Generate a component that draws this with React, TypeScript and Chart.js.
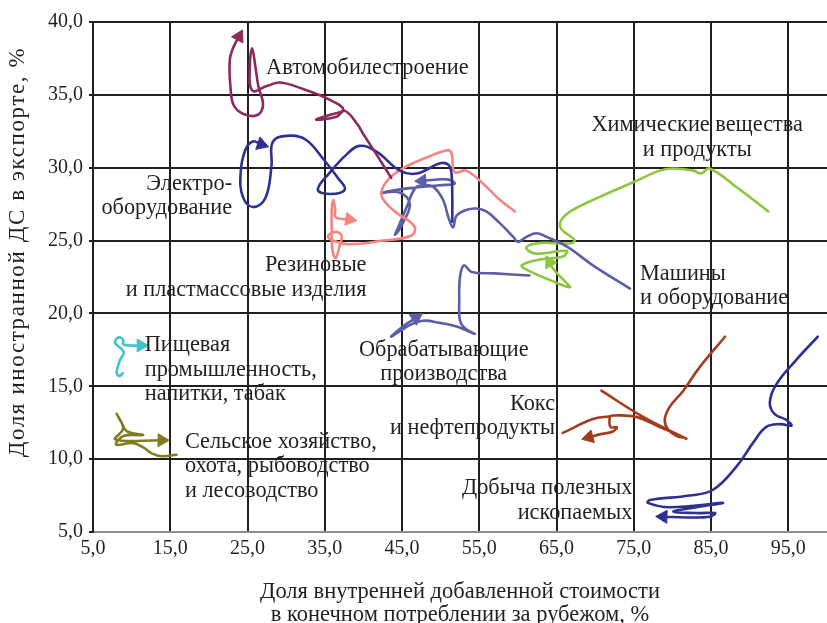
import React, { useEffect, useRef } from 'react';
import { Chart, registerables } from 'chart.js';

Chart.register(...registerables);

type P = [number, number] | null;

// Axis ticks
const X_TICKS = [5, 15, 25, 35, 45, 55, 65, 75, 85, 95];
const Y_TICKS = [5, 10, 15, 20, 25, 30, 35, 40];

// Trajectories (x: доля внутренней ДС, y: доля иностранной ДС), last point = arrow
const AUTO: P[] = [
  [43.6, 29.3], [41.7, 30.9], [40.0, 32.3], [39.2, 33.0], [37.6, 33.9], [36.5, 33.5], [33.9, 33.3],
  [35.5, 33.6], [37.4, 34.0], [35.5, 34.7], [32.2, 35.4], [29.2, 35.85], [27.5, 35.6], [25.6, 35.3],
  [25.3, 37.0], [25.6, 38.2], [26.0, 37.0], [26.4, 35.6], [27.0, 34.3], [26.2, 33.6], [24.4, 33.7],
  [23.2, 34.3], [22.8, 35.5], [22.7, 37.4], [23.2, 38.3], [23.9, 39.0],
];

const ELECTRO: P[] = [
  [51.5, 26.3], [51.5, 28.0], [51.4, 29.6], [51.0, 30.2], [49.9, 30.3], [46.9, 29.6], [44.7, 29.8],
  [41.7, 31.1], [39.5, 31.5], [37.8, 30.9], [35.7, 29.7], [34.1, 28.5], [35.7, 28.2], [37.6, 28.5],
  [36.7, 29.3], [34.8, 30.6], [32.6, 31.9], [30.5, 32.2], [28.3, 31.8], [28.1, 30.1], [27.3, 27.9],
  [25.7, 27.3], [24.4, 28.0], [24.1, 29.6], [24.7, 31.2], [25.7, 31.8], [26.8, 31.6],
];

const RUBBER: P[] = [
  [59.6, 27.0], [57.65, 27.8], [55.5, 28.9], [53.3, 29.8], [51.8, 29.7], [51.4, 31.0], [50.8, 31.2],
  [48.2, 30.7], [45.6, 30.1], [43.4, 29.3], [42.3, 28.3], [42.8, 27.65], [44.3, 26.9], [46.0, 26.3],
  [46.7, 25.8], [46.0, 25.3], [42.6, 25.0], [38.2, 24.75], [36.1, 25.0], [35.4, 25.3], [36.5, 25.6],
  [37.2, 25.3], [36.9, 24.6], [36.4, 23.8], [36.0, 24.3], [35.9, 25.7], [35.9, 27.1], [36.1, 27.8],
  [36.35, 27.1], [36.4, 26.6], [38.2, 26.45],
];

const MACHINES: P[] = [
  [74.5, 21.7], [69.7, 23.3], [66.3, 24.6], [63.7, 25.25], [62.4, 25.5], [61.1, 25.25], [60.0, 24.9],
  [59.4, 25.25], [57.65, 26.2], [55.9, 27.0], [54.6, 27.2], [53.3, 27.1], [52.05, 26.7], [51.6, 25.9],
  [51.0, 26.6], [50.3, 27.8], [49.0, 28.7], [47.7, 28.8], [46.7, 28.6], [45.6, 27.3], [44.5, 25.9],
  [44.1, 25.4], [45.1, 26.2], [46.0, 27.5], [44.7, 28.3], [42.3, 28.25], [46.0, 28.6], [49.9, 28.8],
  [51.8, 28.9], [50.9, 29.2], [47.6, 29.1],
];

const PROCESSING: P[] = [
  [61.5, 22.6], [57.0, 22.75], [54.0, 22.85], [53.0, 23.3], [52.5, 22.5], [52.4, 20.9], [52.5, 19.5],
  [53.1, 19.0], [54.4, 18.6], [52.05, 19.1], [49.9, 19.35], [47.7, 19.5], [46.0, 19.2], [43.6, 18.4],
  [45.1, 19.1], [46.8, 19.7],
];

const CHEMICAL: P[] = [
  [92.4, 27.0], [88.7, 28.5], [84.8, 29.95], [83.7, 29.6], [82.7, 29.8], [80.1, 29.95], [78.35, 29.8],
  [74.9, 29.0], [70.6, 28.0], [67.1, 27.1], [65.6, 26.4], [65.6, 25.8], [66.9, 25.25], [67.35, 25.0],
  [66.7, 24.8], [63.25, 24.85], [61.5, 24.7], [61.1, 24.45], [62.4, 24.1], [66.3, 24.3], [65.8, 23.9],
  [62.8, 23.7], [60.5, 23.3], [61.1, 23.0], [64.1, 22.3], [66.7, 21.8], [65.7, 22.4], [64.5, 23.1],
  [64.1, 23.5],
];

const FOOD: P[] = [
  [8.84, 15.9], [8.4, 15.7], [8.07, 16.0], [8.5, 16.8], [9.0, 17.3], [8.6, 17.6], [7.85, 18.0],
  [8.3, 18.35], [8.9, 18.2], [8.9, 17.9], [9.8, 17.8], [11.2, 17.8],
];

const AGRI: P[] = [
  [15.8, 10.3], [13.9, 10.2], [12.6, 10.4], [11.5, 10.8], [10.2, 11.1], [8.0, 11.0], [9.0, 11.6],
  [11.5, 11.65], [9.4, 11.9], [8.7, 12.5], [8.07, 13.1], [8.9, 12.1], [7.9, 11.35], [13.9, 11.3],
];

const COKE: P[] = [
  [65.8, 11.8], [69.7, 12.75], [71.9, 12.95], null,
  [70.8, 14.7], [76.2, 12.9], [81.8, 11.4], null,
  [86.8, 18.4], [83.5, 16.3], [81.4, 14.7], [79.6, 13.55], [79.0, 12.7], [79.4, 12.05], [80.5, 11.6],
  [81.4, 11.5], [78.35, 12.2], [75.3, 12.9], [72.3, 13.0], [71.9, 12.9], [72.0, 12.2], [72.8, 12.2],
  [72.3, 11.9], [70.6, 11.7], [69.2, 11.5],
];

const MINING: P[] = [
  [98.8, 18.4], [96.0, 16.8], [93.4, 15.1], [92.6, 13.9], [93.2, 13.1], [94.7, 12.7], [95.4, 12.3],
  [93.9, 12.4], [92.1, 12.2], [90.4, 11.1], [88.3, 9.5], [85.25, 7.9], [82.2, 7.5], [77.1, 7.2],
  [76.8, 7.0], [79.6, 6.7], [86.5, 7.0], [83.1, 6.7], [80.1, 6.4], [83.1, 6.3], [85.5, 6.3],
  [84.8, 6.05], [81.8, 6.0], [78.8, 6.05],
];

const SERIES = [
  { name: 'Автомобилестроение', data: AUTO, color: '#8c2b5c' },
  { name: 'Электрооборудование', data: ELECTRO, color: '#2e3192' },
  { name: 'Резиновые и пластмассовые изделия', data: RUBBER, color: '#f58580' },
  { name: 'Машины и оборудование', data: MACHINES, color: '#5c5fa3' },
  { name: 'Обрабатывающие производства', data: PROCESSING, color: '#5c5fa3' },
  { name: 'Химические вещества и продукты', data: CHEMICAL, color: '#8dc63f' },
  { name: 'Пищевая промышленность', data: FOOD, color: '#3fc3c8' },
  { name: 'Сельское хозяйство', data: AGRI, color: '#7f7c22' },
  { name: 'Кокс и нефтепродукты', data: COKE, color: '#a33d1e' },
  { name: 'Добыча полезных ископаемых', data: MINING, color: '#2e3192' },
];

// Annotation labels (data position of first line)
const LABELS: { lines: string[]; x: number; y: number; align: CanvasTextAlign }[] = [
  { lines: ['Автомобилестроение'], x: 27.4, y: 36.8, align: 'left' },
  { lines: ['Электро-', 'оборудование'], x: 23.0, y: 28.9, align: 'right' },
  { lines: ['Резиновые', 'и пластмассовые изделия'], x: 40.4, y: 23.3, align: 'right' },
  { lines: ['Химические вещества', 'и продукты'], x: 83.2, y: 32.9, align: 'center' },
  { lines: ['Машины', 'и оборудование'], x: 75.8, y: 22.7, align: 'left' },
  { lines: ['Пищевая', 'промышленность,', 'напитки, табак'], x: 11.7, y: 17.8, align: 'left' },
  { lines: ['Обрабатывающие', 'производства'], x: 50.4, y: 17.5, align: 'center' },
  { lines: ['Кокс', 'и нефтепродукты'], x: 64.8, y: 13.8, align: 'right' },
  { lines: ['Сельское хозяйство,', 'охота, рыбоводство', 'и лесоводство'], x: 16.9, y: 11.2, align: 'left' },
  { lines: ['Добыча полезных', 'ископаемых'], x: 74.8, y: 8.0, align: 'right' },
];

const X_TITLE = ['Доля внутренней добавленной стоимости', 'в конечном потреблении за рубежом, %'];
const Y_TITLE = 'Доля иностранной ДС в экспорте, %';

const FONT = '"Liberation Serif", "Times New Roman", serif';
const TEXT = '#231f20';

const fmt = (v: number) => v.toFixed(1).replace('.', ',');

const annotationPlugin = {
  id: 'annotations',
  afterDatasetsDraw(chart: any) {
    const { ctx, scales, chartArea } = chart;
    ctx.save();
    ctx.fillStyle = TEXT;
    ctx.font = `22.3px ${FONT}`;
    ctx.textBaseline = 'middle';
    LABELS.forEach((l) => {
      const px = scales.x.getPixelForValue(l.x);
      const py = scales.y.getPixelForValue(l.y);
      ctx.textAlign = l.align;
      l.lines.forEach((t, i) => ctx.fillText(t, px, py + i * 24.5));
    });
    // y-axis title
    ctx.translate(18, (chartArea.top + chartArea.bottom) / 2 - 25);
    ctx.rotate(-Math.PI / 2);
    ctx.textAlign = 'center';
    ctx.font = `23px ${FONT}`;
    try {
      (ctx as any).letterSpacing = '1.6px';
    } catch (e) {
      /* ignore */
    }
    ctx.fillText(Y_TITLE, 0, 0);
    ctx.restore();
  },
};

export default function App() {
  const ref = useRef<HTMLCanvasElement | null>(null);

  useEffect(() => {
    if (!ref.current) return;
    const datasets = SERIES.map((s) => {
      const data = s.data.map((p) => (p ? { x: p[0], y: p[1] } : { x: null as any, y: null as any }));
      const L = data.length - 1;
      let prevIdx = L - 1;
      while (prevIdx > 0 && data[prevIdx].x === null) prevIdx--;
      const last = data[L];
      const prev = data[prevIdx];
      return {
        label: s.name,
        data,
        showLine: true,
        borderColor: s.color,
        backgroundColor: s.color,
        borderWidth: 2.6,
        tension: 0.4,
        fill: false,
        spanGaps: false,
        borderCapStyle: 'round' as const,
        borderJoinStyle: 'round' as const,
        pointStyle: 'triangle' as const,
        pointRadius: (c: any) => (c.dataIndex === L ? 7.5 : 0),
        pointHoverRadius: (c: any) => (c.dataIndex === L ? 7.5 : 0),
        pointBorderWidth: 1,
        pointBorderColor: s.color,
        pointBackgroundColor: s.color,
        pointRotation: (c: any) => {
          if (c.dataIndex !== L) return 0;
          const xs = c.chart.scales.x;
          const ys = c.chart.scales.y;
          const dx = xs.getPixelForValue(last.x) - xs.getPixelForValue(prev.x);
          const dy = ys.getPixelForValue(last.y) - ys.getPixelForValue(prev.y);
          return (Math.atan2(dx, -dy) * 180) / Math.PI;
        },
      };
    });

    const chart = new Chart(ref.current, {
      type: 'scatter',
      data: { datasets },
      options: {
        animation: false,
        responsive: false,
        events: [],
        layout: { autoPadding: false, padding: { top: 22, right: 0, bottom: 0, left: 0 } },
        plugins: { legend: { display: false }, tooltip: { enabled: false } },
        scales: {
          x: {
            type: 'linear',
            position: 'bottom',
            min: 5,
            max: 100,
            afterBuildTicks: (scale: any) => {
              scale.ticks = X_TICKS.map((v) => ({ value: v }));
            },
            afterFit: (scale: any) => {
              scale.height = 91;
              scale.paddingRight = 0;
              scale.paddingLeft = 0;
            },
            grid: { color: '#231f20', lineWidth: 2, drawTicks: false },
            border: { color: '#8c8c8c', width: 2 },
            ticks: {
              color: TEXT,
              font: { family: FONT, size: 20 },
              padding: 5,
              maxRotation: 0,
              autoSkip: false,
              callback: (v: any) => fmt(Number(v)),
            },
            title: {
              display: true,
              text: X_TITLE,
              color: TEXT,
              font: { family: FONT, size: 22.5, lineHeight: 1.0 },
              padding: { top: 0, bottom: -3 },
            },
          },
          y: {
            type: 'linear',
            min: 5,
            max: 40,
            afterBuildTicks: (scale: any) => {
              scale.ticks = Y_TICKS.map((v) => ({ value: v }));
            },
            afterFit: (scale: any) => {
              scale.width = 93;
            },
            grid: { color: '#231f20', lineWidth: 2, drawTicks: true, tickLength: 4 },
            border: { color: '#231f20', width: 2 },
            ticks: {
              color: TEXT,
              font: { family: FONT, size: 20 },
              padding: 6,
              autoSkip: false,
              callback: (v: any) => fmt(Number(v)),
            },
          },
        },
      },
      plugins: [annotationPlugin],
    });
    return () => chart.destroy();
  }, []);

  return (
    <div style={{ position: 'absolute', left: 0, top: 0, width: 827, height: 623, background: '#fff' }}>
      <canvas ref={ref} width={827} height={623} style={{ display: 'block' }} />
    </div>
  );
}
